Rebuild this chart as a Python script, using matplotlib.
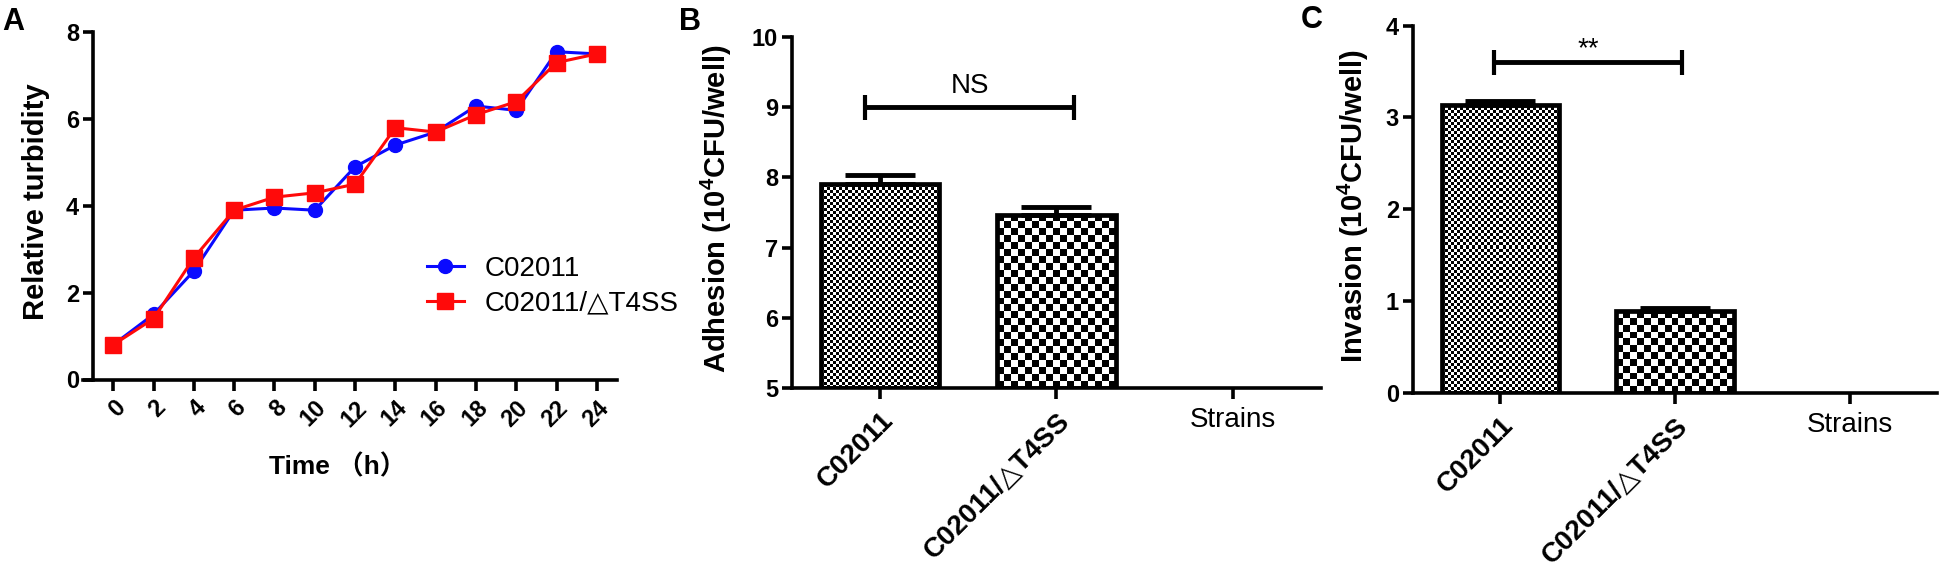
import numpy as np
import matplotlib
matplotlib.use("Agg")
import matplotlib.pyplot as plt

plt.rcParams['font.family'] = ['Liberation Sans', 'DejaVu Sans', 'Noto Sans CJK SC']
plt.rcParams['mathtext.fontset'] = 'custom'
plt.rcParams['mathtext.rm'] = 'Liberation Sans'
plt.rcParams['mathtext.bf'] = 'Liberation Sans:bold'
plt.rcParams['mathtext.default'] = 'bf'

# --- data -------------------------------------------------------------
hours = [0, 2, 4, 6, 8, 10, 12, 14, 16, 18, 20, 22, 24]
turb_wt = [0.8, 1.5, 2.5, 3.9, 3.95, 3.9, 4.9, 5.4, 5.7, 6.3, 6.2, 7.55, 7.5]
turb_mut = [0.8, 1.4, 2.8, 3.9, 4.2, 4.3, 4.5, 5.8, 5.7, 6.1, 6.4, 7.3, 7.5]
series_names = ['C02011', 'C02011/\u25b3T4SS']

strain_labels = ['C02011', 'C02011/\u25b3T4SS', 'Strains']
adhesion = [7.90, 7.47]
adhesion_err = [0.14, 0.11]
invasion = [3.14, 0.89]
invasion_err = [0.04, 0.03]

adh_sig = ('NS', 9.0, [-0.085, 1.10])      # label, bracket height, bracket ends
inv_sig = ('**', 3.6, [-0.035, 1.04])

fig = plt.figure(figsize=(19.5, 5.75), dpi=100)
SPW = 2.6


def style_axes(ax):
    for s in ['top', 'right']:
        ax.spines[s].set_visible(False)
    for s in ['left', 'bottom']:
        ax.spines[s].set_linewidth(SPW)
    ax.tick_params(axis='both', width=SPW, labelsize=17)
    ax.tick_params(axis='y', length=7, pad=3)
    ax.tick_params(axis='x', length=8)
    for t in ax.get_yticklabels():
        t.set_fontweight('bold')


def checker_fill(ax, bars, cells):
    # checkerboard texture clipped to each bar
    for bar, cell in zip(bars, cells):
        x0, y0 = bar.get_x(), bar.get_y()
        w, h = bar.get_width(), bar.get_height()
        p0 = ax.transData.transform((x0, y0))
        p1 = ax.transData.transform((x0 + w, y0 + h))
        nx = max(1, int(round((p1[0] - p0[0]) / cell)))
        ny = max(1, int(round((p1[1] - p0[1]) / cell)))
        board = np.indices((ny, nx)).sum(axis=0) % 2
        im = ax.imshow(board, cmap='gray', extent=(x0, x0 + w, y0, y0 + h),
                       aspect='auto', interpolation='nearest', origin='lower', zorder=1)
        im.set_clip_path(bar)


def bar_panel(ax, vals, errs, ylim, yticks, ylabel, sig, label_x, text_off):
    x = np.arange(len(strain_labels))
    ax.set_xlim(-0.5, 2.5)
    ax.set_ylim(*ylim)
    bars = ax.bar(x[:len(vals)], [v - ylim[0] for v in vals], bottom=ylim[0], width=0.67,
                  facecolor='none', edgecolor='black', linewidth=3.4, zorder=2)
    checker_fill(ax, bars, [3, 7])
    ax.set_xlim(-0.5, 2.5)
    ax.set_ylim(*ylim)
    ax.errorbar(x[:len(vals)], vals, yerr=[[0] * len(vals), errs], fmt='none',
                ecolor='black', elinewidth=3.5, capsize=25, capthick=3.5, zorder=3)
    # significance bracket
    lab, yb, ends = sig
    ax.errorbar([(ends[0] + ends[1]) / 2], [yb], xerr=[(ends[1] - ends[0]) / 2],
                fmt='none', ecolor='black', elinewidth=3.5, capsize=9, capthick=3)
    ax.text((ends[0] + ends[1]) / 2, yb + text_off, lab,
            ha='center', va='baseline', fontsize=20)
    ax.set_yticks(yticks)
    style_axes(ax)
    ax.set_xticks(x)
    ax.set_xticklabels(strain_labels)
    for i, t in enumerate(ax.get_xticklabels()):
        if i < 2:
            t.set_rotation(45)
            t.set_ha('right')
            t.set_va('top')
            t.set_rotation_mode('anchor')
            t.set_fontweight('bold')
            t.set_fontsize(20)
        else:
            t.set_fontsize(20)
            t.set_va('top')
    ax.tick_params(axis='x', pad=6)
    ax.set_ylabel(ylabel, fontsize=21, fontweight='bold')
    ax.yaxis.set_label_coords(label_x, 0.51)


# --- A: growth curve ---------------------------------------------------
axA = fig.add_axes([0.04256, 0.34, 0.27385, 0.604])
axA.plot(hours, turb_wt, color='#0a0aff', marker='o', markersize=10, lw=2.2, label=series_names[0])
axA.plot(hours, turb_mut, color='#ff0a0a', marker='s', markersize=11, lw=2.2, label=series_names[1])
axA.set_xlim(-1.5, 25)
axA.set_ylim(0, 8)
axA.spines['left'].set_position(('data', -1))
axA.set_xticks(hours)
axA.set_yticks([0, 2, 4, 6, 8])
style_axes(axA)
axA.set_xticklabels([str(h) for h in hours], rotation=45, ha='right', va='top',
                    rotation_mode='anchor', fontweight='bold')
axA.tick_params(axis='x', pad=4)
axA.set_ylabel('Relative turbidity', fontsize=21, fontweight='bold')
axA.yaxis.set_label_coords(-0.062, 0.513)
axA.set_xlabel('Time \uff08h\uff09', fontsize=19, fontweight='bold',
               family=['Liberation Sans', 'Noto Sans CJK SC'])
axA.xaxis.set_label_coords(0.476, -0.215)
axA.legend(loc='center left', bbox_to_anchor=(0.645, 0.269), frameon=False, fontsize=20,
           handlelength=1.3, handletextpad=0.75, labelspacing=0.3, borderpad=0, borderaxespad=0)

# --- B: adhesion -------------------------------------------------------
axB = fig.add_axes([0.40615, 0.32522, 0.27128, 0.61043])
bar_panel(axB, adhesion, adhesion_err, (5, 10), [5, 6, 7, 8, 9, 10],
          'Adhesion (10$^{4}$CFU/well)', adh_sig, -0.11, 0.2)

# --- C: invasion -------------------------------------------------------
axC = fig.add_axes([0.72462, 0.31652, 0.26872, 0.63896])
bar_panel(axC, invasion, invasion_err, (0, 4), [0, 1, 2, 3, 4],
          'Invasion (10$^{4}$CFU/well)', inv_sig, -0.08, 0.07)

# panel letters
for lx, ly, lt in [(0.001, 0.988, 'A'), (0.348, 0.988, 'B'), (0.667, 0.992, 'C')]:
    fig.text(lx, ly, lt, fontsize=22, fontweight='bold', va='top', ha='left')

fig.savefig('out.png', dpi=100)
